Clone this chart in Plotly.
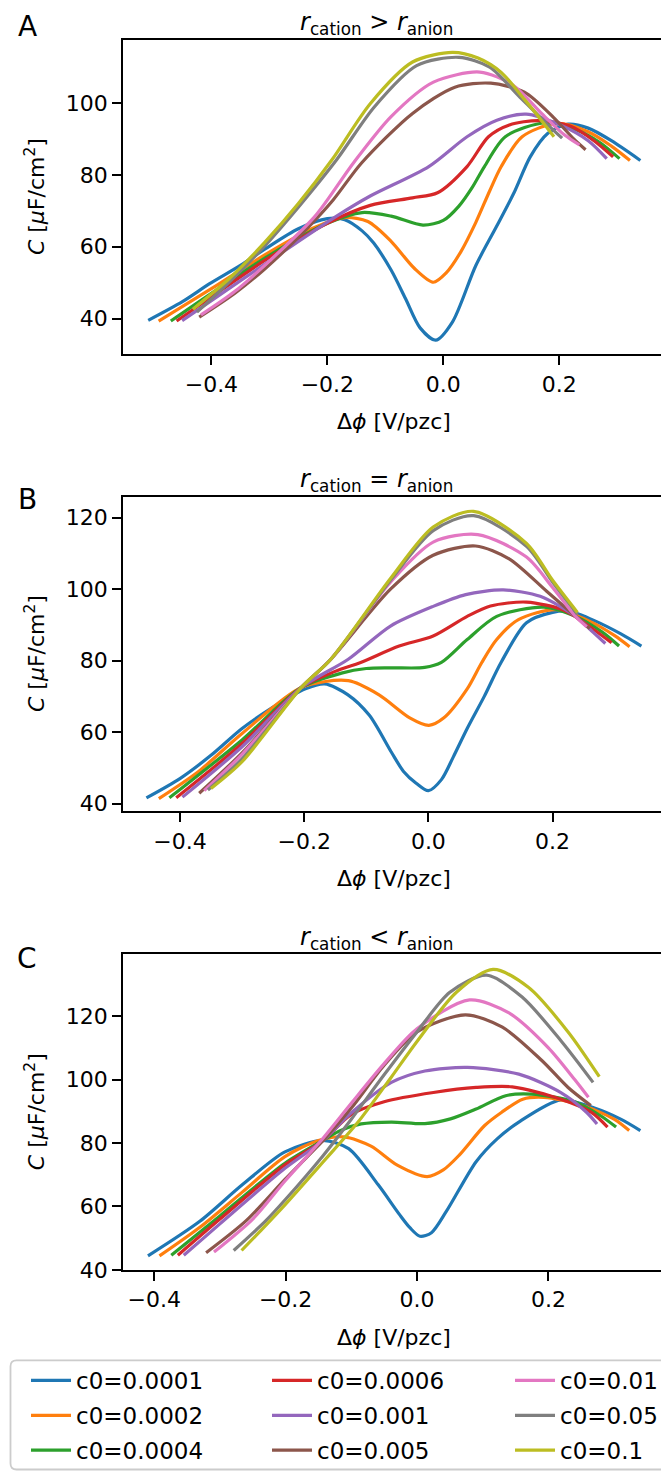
import plotly.graph_objects as go

W, H = 669, 1476
FONT = "DejaVu Sans"

labels = ["c0=0.0001", "c0=0.0002", "c0=0.0004", "c0=0.0006", "c0=0.001",
          "c0=0.005", "c0=0.01", "c0=0.05", "c0=0.1"]
colors = ["#1f77b4", "#ff7f0e", "#2ca02c", "#d62728", "#9467bd",
          "#8c564b", "#e377c2", "#7f7f7f", "#bcbd22"]

# ---------------- Panel A : r_cation > r_anion ----------------
A1_x = [-0.509, -0.45, -0.403, -0.35, -0.308, -0.25, -0.20, -0.17, -0.14, -0.12, -0.09, -0.065, -0.04, -0.013, 0.016, 0.056, 0.0925, 0.122, 0.15, 0.18, 0.215, 0.25, 0.29, 0.34]
A1_y = [39.5, 44.7, 49.7, 54.8, 59.3, 65.0, 67.8, 67.5, 64.4, 61.0, 53.5, 45.5, 37.4, 34.0, 39.1, 54.7, 65.8, 75.0, 85.0, 91.5, 94.1, 93.0, 89.5, 84.0]
A2_x = [-0.491, -0.40, -0.30, -0.22, -0.17, -0.13, -0.09, -0.05, -0.017, 0.005, 0.03, 0.056, 0.08, 0.10, 0.136, 0.195, 0.25, 0.29, 0.322]
A2_y = [39.3, 48.3, 58.5, 65.5, 68.1, 67.0, 61.5, 54.0, 50.1, 52.7, 58.5, 66.7, 75.5, 82.3, 90.6, 94.3, 92.0, 88.0, 84.0]
A3_x = [-0.470, -0.40, -0.30, -0.20, -0.14, -0.09, -0.035, 0.0, 0.027, 0.05, 0.071, 0.107, 0.176, 0.23, 0.27, 0.304]
A3_y = [39.3, 47.0, 57.6, 66.5, 69.5, 68.5, 66.0, 67.3, 71.3, 76.5, 82.3, 90.6, 94.5, 92.5, 89.0, 84.5]
A4_x = [-0.460, -0.40, -0.30, -0.20, -0.126, -0.053, -0.010, 0.041, 0.078, 0.114, 0.165, 0.22, 0.26, 0.293]
A4_y = [39.3, 46.0, 57.0, 66.5, 71.5, 73.6, 75.0, 82.3, 90.6, 93.9, 95.1, 93.5, 89.5, 85.0]
A5_x = [-0.4505, -0.40, -0.30, -0.184, -0.126, -0.025, 0.041, 0.0925, 0.143, 0.20, 0.25, 0.282]
A5_y = [39.4, 45.0, 56.0, 68.5, 74.1, 82.3, 90.6, 95.2, 96.9, 94.0, 89.5, 84.5]
A6_x = [-0.421, -0.36, -0.308, -0.236, -0.19, -0.141, -0.053, 0.020, 0.082, 0.14, 0.19, 0.225, 0.2455]
A6_y = [40.4, 47.0, 53.8, 64.9, 73.0, 83.3, 97.1, 104.4, 105.5, 103.0, 96.0, 90.0, 87.0]
A7_x = [-0.418, -0.36, -0.30, -0.221, -0.155, -0.090, -0.017, 0.063, 0.12, 0.17, 0.21, 0.235]
A7_y = [41.0, 47.5, 56.0, 68.5, 83.3, 96.2, 105.8, 108.6, 105.0, 97.0, 91.0, 88.3]
A8_x = [-0.425, -0.37, -0.308, -0.25, -0.184, -0.119, -0.046, 0.027, 0.08, 0.13, 0.18, 0.205]
A8_y = [41.8, 50.0, 60.2, 71.0, 84.2, 98.9, 110.4, 112.7, 110.0, 102.0, 94.0, 90.2]
A9_x = [-0.432, -0.37, -0.308, -0.25, -0.192, -0.126, -0.053, 0.016, 0.06, 0.10, 0.14, 0.17, 0.191]
A9_y = [42.6, 51.0, 61.2, 72.0, 84.2, 99.8, 111.4, 114.1, 112.5, 108.5, 101.0, 95.0, 90.6]

# ---------------- Panel B : r_cation = r_anion ----------------
B1_x = [-0.454, -0.40, -0.35, -0.30, -0.25, -0.198, -0.167, -0.13, -0.095, -0.06, -0.040, -0.0197, 0.0, 0.021, 0.04, 0.0625, 0.09, 0.117, 0.158, 0.20, 0.227, 0.27, 0.31, 0.343]
B1_y = [41.6, 47.0, 53.5, 61.0, 67.0, 72.1, 73.5, 70.5, 64.7, 54.5, 49.0, 45.7, 43.6, 46.7, 53.0, 61.0, 70.0, 79.5, 90.6, 93.5, 93.8, 91.0, 87.5, 84.1]
B2_x = [-0.434, -0.37, -0.30, -0.2045, -0.129, -0.08, -0.03, 0.0008, 0.025, 0.0625, 0.086, 0.11, 0.145, 0.206, 0.26, 0.30, 0.324]
B2_y = [41.4, 49.0, 59.6, 72.5, 74.4, 70.5, 64.0, 61.9, 64.0, 72.1, 79.5, 85.9, 91.5, 94.3, 91.0, 87.0, 83.9]
B3_x = [-0.417, -0.30, -0.2045, -0.14, -0.10, -0.061, -0.006, 0.021, 0.0625, 0.11, 0.186, 0.237, 0.28, 0.307]
B3_y = [41.6, 57.8, 72.5, 76.5, 77.8, 78.0, 78.1, 79.5, 85.9, 92.4, 95.0, 92.4, 88.0, 84.1]
B4_x = [-0.406, -0.30, -0.2045, -0.15, -0.109, -0.047, 0.0077, 0.0625, 0.10, 0.158, 0.22, 0.26, 0.295]
B4_y = [41.6, 56.8, 72.5, 77.0, 79.5, 84.1, 86.9, 92.4, 95.3, 96.4, 94.0, 89.5, 85.0]
B5_x = [-0.396, -0.30, -0.2045, -0.129, -0.061, 0.0077, 0.06, 0.1206, 0.18, 0.237, 0.265, 0.285]
B5_y = [41.8, 55.9, 72.5, 80.4, 89.7, 95.2, 98.5, 99.8, 98.0, 92.4, 88.0, 84.8]
B6_x = [-0.369, -0.30, -0.2045, -0.157, -0.061, 0.0077, 0.076, 0.13, 0.19, 0.237, 0.26]
B6_y = [42.9, 54.2, 72.5, 80.4, 100.0, 109.5, 112.1, 108.5, 99.5, 92.4, 89.0]
B7_x = [-0.361, -0.30, -0.2045, -0.157, -0.061, 0.0077, 0.0796, 0.158, 0.20, 0.237, 0.255]
B7_y = [43.6, 53.8, 72.5, 80.4, 102.0, 113.2, 115.3, 109.0, 100.5, 92.4, 89.5]
B8_x = [-0.355, -0.30, -0.2045, -0.157, -0.061, 0.0077, 0.0728, 0.158, 0.20, 0.24]
B8_y = [43.8, 52.5, 72.5, 80.4, 102.5, 116.4, 120.6, 112.0, 102.0, 93.0]
B9_x = [-0.350, -0.30, -0.2045, -0.157, -0.061, 0.0077, 0.0728, 0.158, 0.20, 0.24]
B9_y = [44.2, 51.7, 72.5, 80.4, 103.0, 117.4, 121.8, 112.8, 102.5, 93.5]

# ---------------- Panel C : r_cation < r_anion ----------------
C1_x = [-0.4095, -0.3306, -0.266, -0.201, -0.143, -0.104, -0.059, -0.0265, -0.0104, 0.0045, 0.022, 0.0446, 0.09, 0.122, 0.155, 0.219, 0.27, 0.31, 0.340]
C1_y = [44.4, 55.3, 66.8, 77.2, 80.8, 78.2, 66.8, 57.4, 53.2, 50.6, 51.7, 58.4, 74.1, 81.3, 86.6, 93.6, 91.0, 87.5, 83.9]
C2_x = [-0.392, -0.33, -0.266, -0.201, -0.15, -0.111, -0.07, -0.03, 0.0155, 0.04, 0.064, 0.103, 0.129, 0.161, 0.193, 0.25, 0.30, 0.323]
C2_y = [44.4, 53.5, 64.5, 75.7, 80.8, 81.9, 79.0, 73.0, 69.4, 71.5, 76.1, 85.5, 89.7, 93.8, 94.4, 92.0, 87.5, 83.9]
C3_x = [-0.374, -0.30, -0.201, -0.143, -0.117, -0.085, -0.039, 0.012, 0.051, 0.09, 0.135, 0.174, 0.24, 0.28, 0.303]
C3_y = [44.6, 57.0, 73.6, 80.8, 83.9, 86.0, 86.6, 86.1, 87.6, 90.7, 94.9, 95.4, 93.0, 88.5, 85.0]
C4_x = [-0.364, -0.30, -0.201, -0.143, -0.10, -0.05, 0.025, 0.09, 0.145, 0.219, 0.265, 0.290]
C4_y = [44.6, 56.0, 73.1, 80.8, 89.0, 93.0, 95.9, 97.5, 97.7, 93.8, 89.7, 85.0]
C5_x = [-0.355, -0.30, -0.201, -0.143, -0.10, -0.039, 0.012, 0.077, 0.155, 0.219, 0.258, 0.274]
C5_y = [44.6, 54.5, 72.0, 80.8, 89.5, 99.1, 102.7, 103.8, 101.7, 95.9, 89.7, 86.0]
C6_x = [-0.321, -0.26, -0.201, -0.143, -0.10, -0.05, 0.0, 0.0737, 0.13, 0.19, 0.23, 0.2646]
C6_y = [45.4, 55.5, 68.5, 80.8, 91.0, 104.5, 115.0, 120.4, 116.5, 106.0, 97.5, 91.8]
C7_x = [-0.309, -0.25, -0.201, -0.143, -0.10, -0.05, 0.0, 0.080, 0.14, 0.20, 0.24, 0.261]
C7_y = [45.6, 56.0, 68.0, 81.5, 92.5, 105.0, 116.0, 125.1, 121.0, 110.0, 100.0, 94.4]
C8_x = [-0.279, -0.23, -0.201, -0.143, -0.10, -0.05, 0.0, 0.05, 0.106, 0.16, 0.22, 0.268]
C8_y = [46.1, 55.5, 62.0, 76.0, 87.5, 101.5, 115.0, 127.5, 132.9, 126.0, 112.0, 99.1]
C9_x = [-0.267, -0.235, -0.201, -0.143, -0.09, -0.04, 0.0, 0.06, 0.1158, 0.17, 0.23, 0.2775]
C9_y = [46.1, 53.0, 60.5, 74.0, 86.5, 100.5, 112.0, 127.5, 134.7, 129.0, 115.0, 100.9]

panel_titles = ["<i>r</i><sub>cation</sub> > <i>r</i><sub>anion</sub>",
                "<i>r</i><sub>cation</sub> = <i>r</i><sub>anion</sub>",
                "<i>r</i><sub>cation</sub> < <i>r</i><sub>anion</sub>"]
panel_letters = ["A", "B", "C"]
x_ticks = [-0.4, -0.2, 0.0, 0.2]
y_ticks = [[40, 60, 80, 100], [40, 60, 80, 100, 120], [40, 60, 80, 100, 120]]
x_ranges = [[-0.5525, 0.3825], [-0.4917, 0.381], [-0.4475, 0.3775]]
y_ranges = [[30.0, 117.6], [37.8, 125.9], [39.9, 139.5]]

panels = [
    [(A1_x, A1_y), (A2_x, A2_y), (A3_x, A3_y), (A4_x, A4_y), (A5_x, A5_y),
     (A6_x, A6_y), (A7_x, A7_y), (A8_x, A8_y), (A9_x, A9_y)],
    [(B1_x, B1_y), (B2_x, B2_y), (B3_x, B3_y), (B4_x, B4_y), (B5_x, B5_y),
     (B6_x, B6_y), (B7_x, B7_y), (B8_x, B8_y), (B9_x, B9_y)],
    [(C1_x, C1_y), (C2_x, C2_y), (C3_x, C3_y), (C4_x, C4_y), (C5_x, C5_y),
     (C6_x, C6_y), (C7_x, C7_y), (C8_x, C8_y), (C9_x, C9_y)],
]

# layout geometry (pixels)
box_left, box_right = 115, 657
box_tb = [(32, 349.3), (492.7, 810), (954, 1272.5)]
letter_y = [19, 496, 958]


def px(x):
    return x / W


def py(y):
    return 1 - y / H


fig = go.Figure()
legend_names = ["legend", "legend2", "legend3"]
for p, curves in enumerate(panels):
    xa = "x" if p == 0 else f"x{p+1}"
    ya = "y" if p == 0 else f"y{p+1}"
    for i, (xs, ys) in enumerate(curves):
        fig.add_trace(go.Scatter(
            x=xs, y=ys, mode="lines", name=labels[i],
            line=dict(color=colors[i], width=3.2, shape="spline", smoothing=0.8),
            xaxis=xa, yaxis=ya,
            legendgroup=labels[i],
            legend=legend_names[i // 3],
            showlegend=(p == 0),
            hoverinfo="x+y+name",
        ))

axis_common = dict(
    showline=True, linecolor="black", linewidth=1.8, mirror=True,
    ticks="outside", ticklen=9, tickwidth=1.8, tickcolor="black",
    showgrid=False, zeroline=False,
    tickfont=dict(family=FONT, size=22, color="black"),
)

layout = dict(
    width=W, height=H, margin=dict(l=0, r=0, t=0, b=0),
    paper_bgcolor="white", plot_bgcolor="white",
    font=dict(family=FONT, color="black"),
)
annotations = []
for p in range(3):
    top, bot = box_tb[p]
    sx = "" if p == 0 else str(p + 1)
    layout[f"xaxis{sx}"] = dict(
        axis_common, domain=[px(box_left), px(box_right)], range=x_ranges[p],
        tickvals=x_ticks, tickformat=".1f", anchor=f"y{sx}",
    )
    layout[f"yaxis{sx}"] = dict(
        axis_common, domain=[py(bot), py(top)], range=y_ranges[p],
        tickvals=y_ticks[p], anchor=f"x{sx}",
    )
    annotations.append(dict(text=panel_titles[p], x=px(368), y=py(top - 16),
                            xref="paper", yref="paper", showarrow=False,
                            font=dict(family=FONT, size=24), xanchor="center", yanchor="middle"))
    annotations.append(dict(text=panel_letters[p], x=px(19), y=py(letter_y[p]),
                            xref="paper", yref="paper", showarrow=False,
                            font=dict(family=FONT, size=28), xanchor="center", yanchor="middle"))
    annotations.append(dict(text="Δ<i>ϕ</i> [V/pzc]", x=px(386), y=py(bot + 68),
                            xref="paper", yref="paper", showarrow=False,
                            font=dict(family=FONT, size=22), xanchor="center", yanchor="middle"))
    annotations.append(dict(text="<i>C</i> [<i>μ</i>F/cm<sup>2</sup>]", x=px(27), y=py((top + bot) / 2),
                            xref="paper", yref="paper", showarrow=False, textangle=-90,
                            font=dict(family=FONT, size=22), xanchor="center", yanchor="middle"))
layout["annotations"] = annotations

# legend frame (rounded rectangle)
L, R, T, B, r = 2.5, 664.5, 1363.5, 1473.5, 6
path = (f"M {px(L + r)},{py(T)} L {px(R - r)},{py(T)} Q {px(R)},{py(T)} {px(R)},{py(T + r)} "
        f"L {px(R)},{py(B - r)} Q {px(R)},{py(B)} {px(R - r)},{py(B)} "
        f"L {px(L + r)},{py(B)} Q {px(L)},{py(B)} {px(L)},{py(B - r)} "
        f"L {px(L)},{py(T + r)} Q {px(L)},{py(T)} {px(L + r)},{py(T)} Z")
layout["shapes"] = [dict(type="path", path=path, xref="paper", yref="paper",
                         line=dict(color="#cccccc", width=1.8), fillcolor="rgba(255,255,255,0.8)",
                         layer="below")]

legend_x = [18, 259, 502]
for k, name in enumerate(legend_names):
    layout[name] = dict(
        x=px(legend_x[k]), y=py(1362), xanchor="left", yanchor="top",
        xref="paper", yref="paper", orientation="v",
        bgcolor="rgba(0,0,0,0)", borderwidth=0,
        font=dict(family=FONT, size=23, color="black"),
        traceorder="grouped", tracegroupgap=2, itemwidth=40,
    )

fig.update_layout(**layout)
fig.write_html("out.html")
